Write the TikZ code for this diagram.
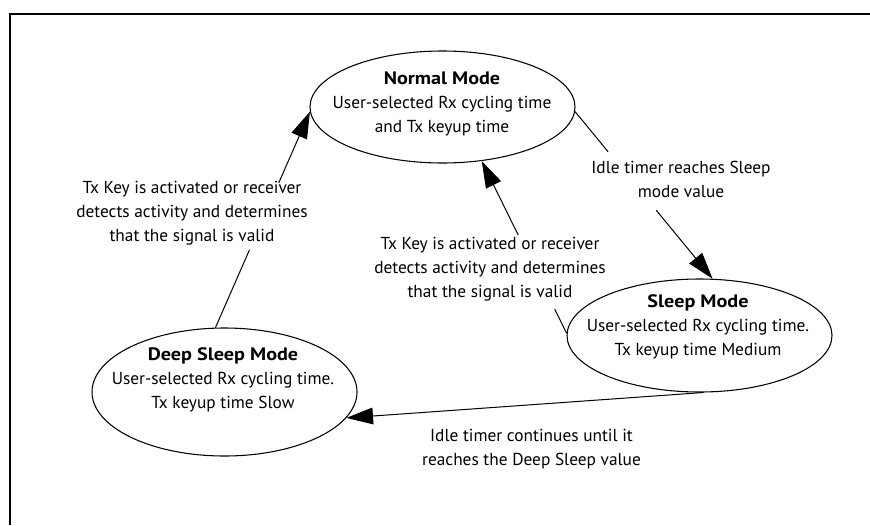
\documentclass[tikz,border=0pt]{standalone}
\usepackage{fontspec}
\setmainfont{PT Sans}
\newfontfamily\statefont[FakeStretch=1.12]{PT Sans}
\usetikzlibrary{arrows.meta,shapes.geometric,calc}
\newcommand\statetitle[1]{{\statefont\bfseries\fontsize{13.5}{18}\selectfont #1}}
\begin{document}
\begin{tikzpicture}[x=0.75pt,y=-0.75pt,
  state/.style={draw, ellipse, line width=0.8pt, inner sep=0pt,
                minimum width=198.75pt},
  txt/.style={align=center, font=\fontsize{13}{18}\selectfont, inner sep=0pt},
  conn/.style={line width=0.75pt},
  arr/.style={conn, -{Triangle[length=20pt,width=12.5pt]}},
]
\useasboundingbox (0,0) rectangle (870,525);

% frame (top and left rule)
\draw[line width=1.9pt] (10,525) -- (10,14) -- (870,14);

% states
\node[state, minimum height=84pt]    (normal) at (442.5,107)   {};
\node[state, minimum height=84.75pt] (sleep)  at (699.5,335.5) {};
\node[state, minimum height=96pt]    (deep)   at (224.5,392)   {};

\node[txt] (normalT) at (442,104)
  {\statetitle{Normal Mode}\\User-selected Rx cycling time\\and Tx keyup time};
\node[txt] (sleepT) at (698,327)
  {\statetitle{Sleep Mode}\\User-selected Rx cycling time.\\Tx keyup time Medium};
\node[txt] (deepT) at (223,380)
  {\statetitle{Deep Sleep Mode}\\User-selected Rx cycling time.\\Tx keyup time Slow};

% transition labels
\node[txt] (lblA) at (192,213)
  {Tx Key is activated or receiver\\detects activity and determines\\that the signal is valid};
\node[txt] (lblB) at (490,269)
  {Tx Key is activated or receiver\\detects activity and determines\\that the signal is valid};
\node[txt] (lblC) at (681,179)
  {Idle timer reaches Sleep\\mode value};
\node[txt] (lblD) at (531.5,449)
  {Idle timer continues until it\\reaches the Deep Sleep value};

% transitions, each broken where its label sits
\draw[conn] (deep.98) -- ($(deep.98)!0.36!(normal.182)$);
\draw[arr]  ($(deep.98)!0.67!(normal.182)$) -- (normal.182);

\draw[conn] (sleep.179) -- ($(sleep.179)!0.14!(normal.-54)$);
\draw[arr]  ($(sleep.179)!0.57!(normal.-54)$) -- (normal.-54);

\draw[conn] (normal.-2) -- ($(normal.-2)!0.24!(sleep.77)$);
\draw[arr]  ($(normal.-2)!0.59!(sleep.77)$) -- (sleep.77);

\draw[arr] (sleep.-86) -- (deep.-12);
\end{tikzpicture}
\end{document}
